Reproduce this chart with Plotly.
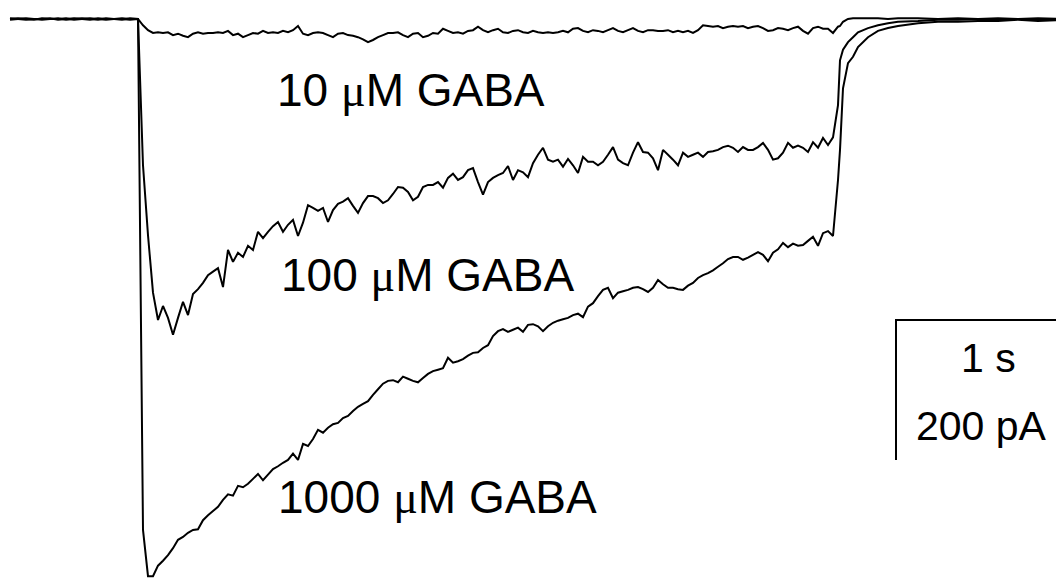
import plotly.graph_objects as go

# ---- data (time in ms, current in pA) ----
step_ms = 25  # sampling step of the digitised plateau section

t_pre = [-640, -600, -560, -520, -480, -440, -400, -360, -320, -280, -240, -200, -160, -120, -80, -40]
t_tail = [3510, 3525, 3550, 3575, 3600, 3650, 3700, 3750, 3800, 3900, 4000, 4100, 4200, 4300, 4400, 4500, 4650]

pre_10 = [0, 1, 0, -1, 1, 0, 0, 1, -1, 0, 1, 0, -1, 0, 1, 0]
pre_100 = [1, 0, -1, 0, 0, 1, -1, 0, 1, 0, -1, 1, 0, 0, -1, 1]
pre_1000 = [-1, 0, 1, 0, -1, 0, 1, -1, 0, 1, 0, -1, 1, 0, 0, -1]

gaba_10 = [
    0, -9, -16, -20, -19, -20, -19, -23, -21, -24,
    -26, -21, -19, -21, -20, -20, -19, -20, -17, -23,
    -21, -26, -23, -20, -21, -17, -20, -19, -20, -17,
    -19, -16, -10, -21, -23, -20, -19, -20, -23, -26,
    -21, -20, -23, -24, -26, -29, -33, -30, -26, -23,
    -20, -20, -19, -23, -26, -21, -20, -26, -24, -20,
    -21, -14, -17, -20, -19, -21, -17, -16, -11, -16,
    -19, -16, -14, -19, -20, -17, -16, -19, -20, -17,
    -19, -20, -19, -20, -19, -17, -19, -14, -13, -17,
    -19, -16, -17, -19, -16, -13, -17, -19, -16, -13,
    -17, -19, -16, -16, -17, -17, -16, -19, -17, -19,
    -17, -20, -16, -9, -10, -11, -10, -13, -11, -10,
    -11, -10, -13, -11, -10, -13, -17, -16, -13, -14,
    -16, -13, -11, -17, -21, -13, -11, -14, -14, -20,
    -11,
]
gaba_100 = [
    0, -209, -309, -391, -430, -410, -427, -451, -427, -404,
    -423, -393, -386, -377, -366, -361, -356, -383, -330, -347,
    -334, -340, -324, -330, -304, -313, -304, -296, -290, -304,
    -294, -287, -310, -291, -266, -270, -274, -270, -290, -273,
    -264, -261, -256, -267, -277, -263, -253, -253, -256, -263,
    -259, -250, -240, -241, -247, -259, -254, -240, -237, -237,
    -233, -241, -227, -221, -230, -226, -216, -213, -233, -251,
    -233, -227, -223, -220, -210, -230, -216, -219, -226, -206,
    -194, -184, -201, -204, -201, -211, -200, -209, -220, -197,
    -204, -204, -209, -204, -194, -183, -201, -206, -209, -191,
    -176, -190, -191, -199, -216, -187, -194, -201, -209, -191,
    -197, -194, -191, -197, -190, -189, -187, -183, -181, -184,
    -190, -183, -187, -187, -183, -177, -187, -201, -199, -191,
    -177, -184, -181, -184, -190, -176, -184, -170, -180, -169,
    -123,
]
gaba_1000 = [
    0, -730, -796, -796, -781, -774, -766, -756, -744, -740,
    -734, -730, -729, -716, -709, -703, -697, -687, -679, -681,
    -667, -669, -664, -657, -650, -659, -651, -643, -639, -634,
    -630, -621, -630, -607, -610, -600, -587, -591, -584, -579,
    -577, -570, -567, -560, -554, -550, -546, -537, -529, -521,
    -517, -516, -519, -511, -514, -517, -519, -513, -507, -503,
    -501, -499, -484, -491, -489, -486, -481, -477, -476, -470,
    -466, -453, -446, -443, -447, -444, -441, -447, -437, -436,
    -439, -446, -439, -434, -431, -429, -427, -423, -421, -426,
    -411, -406, -396, -387, -384, -399, -391, -389, -387, -384,
    -383, -386, -390, -384, -373, -379, -384, -384, -386, -387,
    -381, -377, -370, -366, -363, -359, -354, -349, -343, -340,
    -340, -344, -341, -337, -333, -337, -346, -334, -329, -320,
    -326, -321, -324, -323, -317, -311, -324, -306, -303, -310,
    -230,
]

tail_10 = [-10, -4, 0, 1, 1, 1, 1, 0, 1, 1, 0, 1, 0, 1, 0, 1, 0]
tail_100 = [-59, -44, -33, -26, -19, -13, -9, -6, -4, -3, -1, -1, 0, -1, 0, -1, 0]
tail_1000 = [-187, -99, -63, -54, -40, -26, -17, -13, -10, -6, -4, -4, -3, -3, -1, -3, -1]

concentrations = ["10", "100", "1000"]
unit_prefix = "μ"
unit_text = "M GABA"
scale_time_ms = 1000
scale_current_pa = 200
scale_labels = ["1 s", "200 pA"]

# ---- figure ----
fig = go.Figure()
series = [(pre_10, gaba_10, tail_10), (pre_100, gaba_100, tail_100), (pre_1000, gaba_1000, tail_1000)]
for pre, main, tail in series:
    x = t_pre + [step_ms * i for i in range(len(main))] + t_tail
    y = pre + main + tail
    fig.add_trace(go.Scatter(x=x, y=y, mode="lines",
                             line=dict(color="black", width=2, simplify=False),
                             hoverinfo="skip", showlegend=False))

# scale bar (corner anchored at t=3790 ms, I=-430 pA)
bar_t0, bar_i0 = 3790, -430
fig.add_trace(go.Scatter(
    x=[bar_t0 + scale_time_ms, bar_t0, bar_t0],
    y=[bar_i0, bar_i0, bar_i0 - scale_current_pa],
    mode="lines", line=dict(color="black", width=2),
    hoverinfo="skip", showlegend=False))

font_lab = dict(family="Arial, Liberation Sans, sans-serif", size=46, color="black")
font_sc = dict(family="Arial, Liberation Sans, sans-serif", size=41, color="black")
label_pos = [(685, -101), (705, -366), (690, -683)]
for conc, (tx, ty) in zip(concentrations, label_pos):
    txt = (conc + " <span style=\"font-family:'Liberation Serif', serif\">"
           + unit_prefix + "</span>" + unit_text)
    fig.add_annotation(x=tx, y=ty, text=txt, showarrow=False, xanchor="left",
                       yanchor="middle", font=font_lab)
fig.add_annotation(x=4250, y=-484, text=scale_labels[0], showarrow=False,
                   xanchor="center", yanchor="middle", font=font_sc)
fig.add_annotation(x=4215, y=-581, text=scale_labels[1], showarrow=False,
                   xanchor="center", yanchor="middle", font=font_sc)

fig.update_layout(
    width=1064, height=580,
    margin=dict(l=0, r=0, t=0, b=0),
    paper_bgcolor="white", plot_bgcolor="white",
    xaxis=dict(range=[-650, 4670], visible=False, fixedrange=True),
    yaxis=dict(range=[-812.9, 15.7], visible=False, fixedrange=True),
)

fig.write_html("out.html")
